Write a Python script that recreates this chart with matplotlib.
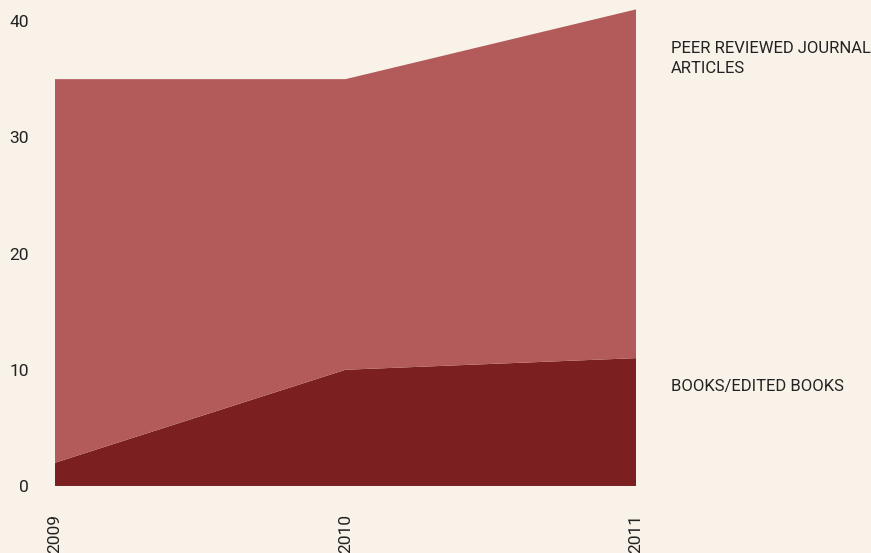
import matplotlib.pyplot as plt

years = [2009, 2010, 2011]
books = [2, 10, 11]
journals = [33, 25, 30]
series_labels = ["BOOKS/EDITED BOOKS", "PEER REVIEWED JOURNAL\nARTICLES"]
yticks = [0, 10, 20, 30, 40]

bg = "#f8f2e8"
plt.rcParams['font.family'] = ['Roboto', 'DejaVu Sans']

fig = plt.figure(figsize=(8.71, 5.53), dpi=100, facecolor=bg)
ax = fig.add_axes([55 / 871, 1 - 486 / 553, (636 - 55) / 871, (486 - 9.4) / 553])
ax.set_facecolor(bg)

ax.stackplot(years, books, journals, colors=["#7b1f21", "#b35b5a"], linewidth=0)
ax.plot([years[0], years[-1]], [0, 0], color="#6a3a55", lw=1)

ax.set_xlim(years[0], years[-1])
ax.set_ylim(0, 41)
ax.set_xticks(years)
ax.set_xticklabels([str(y) for y in years], rotation=90, fontsize=12.5, color="#222222")
ax.set_yticks(yticks)
ax.set_yticklabels([str(t) for t in yticks], fontsize=12.5, color="#222222")
ax.tick_params(axis='x', length=0, pad=20)
ax.tick_params(axis='y', length=0, pad=19)
for s in ax.spines.values():
    s.set_visible(False)

fig.text(671 / 871, 1 - 41 / 553, series_labels[1], fontsize=12, color="#222222",
         va='top', ha='left', linespacing=1.45)
fig.text(671 / 871, 1 - 386 / 553, series_labels[0], fontsize=12, color="#222222",
         va='center', ha='left')

fig.savefig("out.png", dpi=100, facecolor=bg)
